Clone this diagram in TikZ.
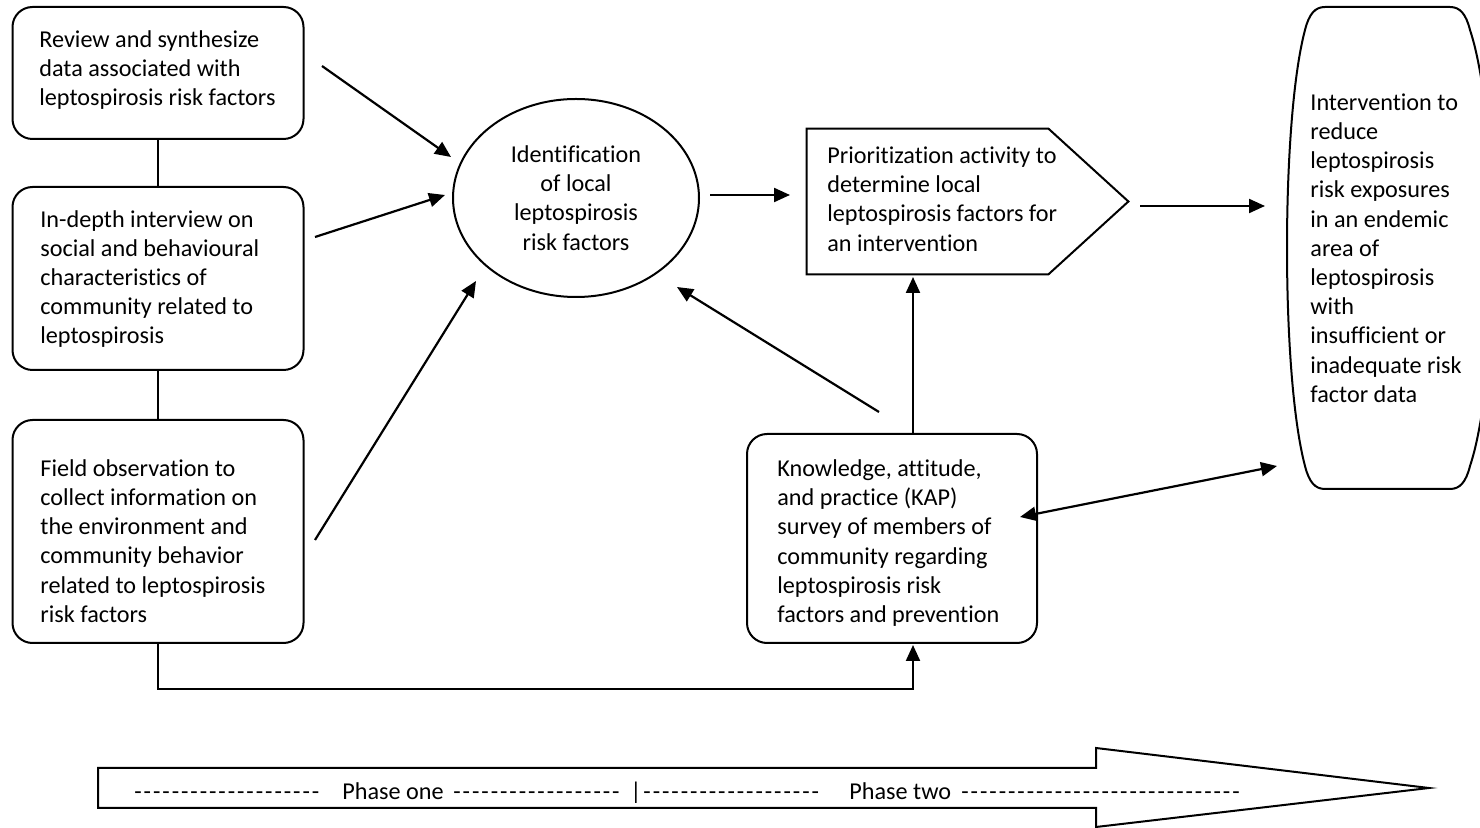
\documentclass[tikz,border=0pt]{standalone}
\usepackage{fontspec}
\setmainfont{Carlito}[Ligatures={TeXOff,NoCommon}]
\newfontfamily\dashfont{Carlito}[Ligatures={TeXOff,NoCommon},LetterSpace=8.0]
\usetikzlibrary{arrows.meta,shapes.geometric,calc}
\begin{document}
\begin{tikzpicture}[x=0.5pt,y=-0.5pt,
  shp/.style={draw, line width=1pt},
  rbox/.style={shp, rounded corners=10pt, minimum width=145.5pt, inner sep=0pt},
  ghost/.style={inner sep=0pt},
  txt/.style={inner sep=0pt, align=left, anchor=west, font=\fontsize{12.1}{14.6}\selectfont},
  btxt/.style={inner sep=0pt, anchor=base west, font=\fontsize{12.1}{14.6}\selectfont},
  dtxt/.style={inner sep=0pt, anchor=base west, font=\fontsize{12.1}{14.6}\dashfont},
  arr/.style={line width=1.1pt, -{Triangle[length=8pt,width=7pt]}},
  darr/.style={line width=1.1pt, {Triangle[length=8pt,width=7pt]}-{Triangle[length=8pt,width=7pt]}},
  link/.style={line width=1pt}]
\useasboundingbox (0,0) rectangle (1480,828);

% left column boxes
\node[rbox, minimum height=66pt] (b1) at (158,73) {};
\node[rbox, minimum height=91.5pt] (b2) at (158,278.5) {};
\node[rbox, minimum height=111.5pt] (b3) at (158,531.5) {};
\node[txt] (t1) at (39,70) {Review and synthesize\\data associated with\\leptospirosis risk factors};
\node[txt] (t2) at (40,279) {In-depth interview on\\social and behavioural\\characteristics of\\community related to\\leptospirosis};
\node[txt] (t3) at (40,541) {Field observation to\\collect information on\\the environment and\\community behavior\\related to leptospirosis\\risk factors};

% ellipse
\node[shp, ellipse, minimum width=123pt, minimum height=99pt, inner sep=0pt, align=center,
      font=\fontsize{12.1}{14.6}\selectfont] (e) at (576,198)
  {Identification\\of local\\leptospirosis\\risk factors};

% pentagon
\node[ghost, minimum width=120.5pt, minimum height=72.5pt] (p) at (927.5,201.5) {};
\coordinate (ptip) at ($(p.east)+(80,0)$);
\draw[shp] (p.north west) -- (p.north east) -- (ptip) -- (p.south east) -- (p.south west) -- cycle;
\node[txt] (tp) at (827,199) {Prioritization activity to\\determine local\\leptospirosis factors for\\an intervention};

% KAP box
\node[rbox, minimum width=145pt, minimum height=104.5pt] (k) at (892,538.5) {};
\node[txt] (tk) at (777,543) {Knowledge, attitude,\\and practice (KAP)\\survey of members of\\community regarding\\leptospirosis risk\\factors and prevention};

% right shape
\node[ghost, minimum width=75.5pt, minimum height=241pt] (r) at (1387.5,248) {};
\draw[shp] (1325,7) -- (1450,7) .. controls (1460,7) and (1466,14) .. (1470,30)
  .. controls (1500,120) and (1500,376) .. (1470,466)
  .. controls (1466,482) and (1460,489) .. (1450,489) -- (1325,489)
  .. controls (1315,489) and (1309,482) .. (1305,466)
  .. controls (1281,376) and (1281,120) .. (1305,30)
  .. controls (1309,14) and (1315,7) .. (1325,7) -- cycle;
\node[txt] (tr) at (1310,248) {Intervention to\\reduce\\leptospirosis\\risk exposures\\in an endemic\\area of\\leptospirosis\\with\\insufficient or\\inadequate risk\\factor data};

% connector end points
\coordinate (a1s) at (322,66);  \coordinate (a1e) at (451,157);
\coordinate (a2s) at (315,237); \coordinate (a2e) at (445,195);
\coordinate (a3s) at (315,540); \coordinate (a3e) at (476,281);
\coordinate (a4s) at (879,412); \coordinate (a4e) at (677,287);
\coordinate (a5s) at (710,195); \coordinate (a5e) at (790,195);
\coordinate (a6s) at (913,434); \coordinate (a6e) at (913,277);
\coordinate (a7s) at (1140,206); \coordinate (a7e) at (1265,206);
\coordinate (d1) at (1020,517); \coordinate (d2) at (1277,466);
\coordinate (kb) at (913,645);

% connectors
\draw[link] (b1.south) -- (b2.north);
\draw[link] (b2.south) -- (b3.north);
\draw[arr] (a1s) -- (a1e);
\draw[arr] (a2s) -- (a2e);
\draw[arr] (a3s) -- (a3e);
\draw[arr] (a4s) -- (a4e);
\draw[arr] (a5s) -- (a5e);
\draw[arr] (a6s) -- (a6e);
\draw[arr] (a7s) -- (a7e);
\draw[darr] (d1) -- (d2);
\draw[arr] (b3.south) -- ++(0,45) -| (kb);

% phase arrow
\draw[shp] (98,768) -- (1096,768) -- (1096,748) -- (1429,788) -- (1096,827) -- (1096,808) -- (98,808) -- cycle;
\node[dtxt] (g1) at (134,800) {--------------------};
\node[btxt] (ph1) at (342,800) {Phase one};
\node[dtxt] (g2) at (453,800) {------------------};
\node[dtxt] (g3) at (630,800) {|-------------------};
\node[btxt] (ph2) at (849,800) {Phase two};
\node[dtxt] (g4) at (961,800) {------------------------------};
\end{tikzpicture}
\end{document}
